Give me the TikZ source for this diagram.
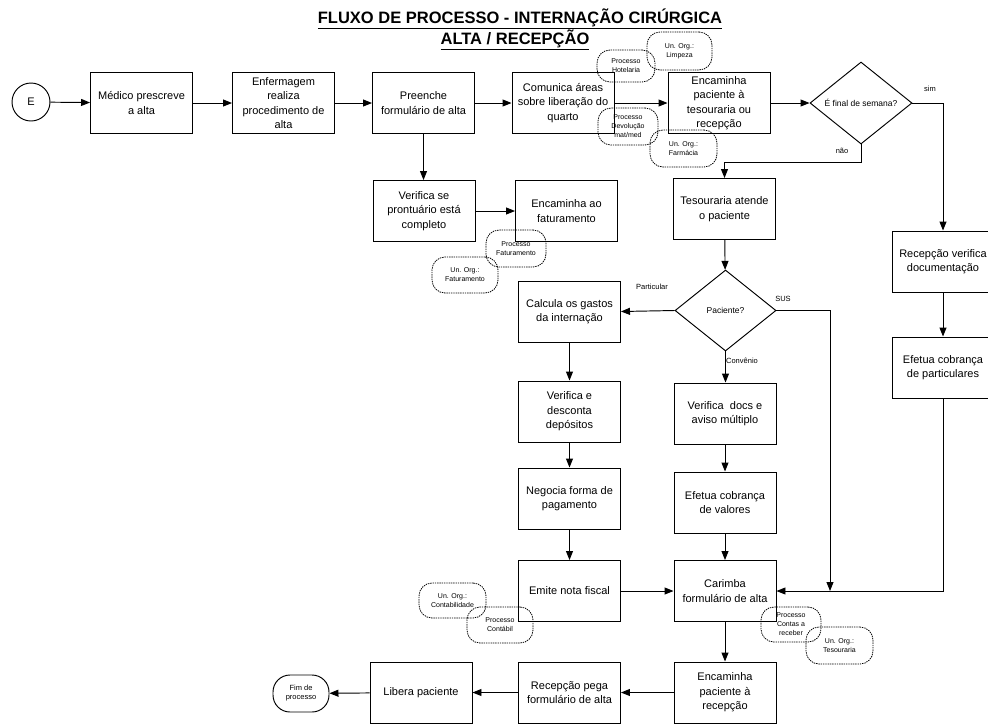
\documentclass[tikz,border=0pt]{standalone}
\usepackage{fontspec}
\setmainfont{Liberation Sans}
\usetikzlibrary{arrows.meta,shapes.geometric,calc}

\begin{document}
\begin{tikzpicture}[x=1pt,y=-1pt,
  line width=0.95pt,
  stepbox/.style={draw, minimum width=102pt, minimum height=61pt, inner sep=0pt,
    align=center, font=\fontsize{11}{14.5}\selectfont},
  decision/.style={draw, diamond, minimum width=102pt, minimum height=82pt,
    inner sep=0pt, align=center, font=\fontsize{8.5}{10}\selectfont},
  bubble/.style={draw, line width=0.8pt, dash pattern=on 1.4pt off 0.9pt, rounded corners=13pt,
    inner sep=0pt, align=center, font=\fontsize{7}{9}\selectfont},
  flowlabel/.style={font=\fontsize{7.5}{9}\selectfont, inner sep=0pt},
  flow/.style={-{Triangle[length=9pt,width=7pt]}},
]
\useasboundingbox (0,0) rectangle (988,724);

% title
\node[font=\fontsize{16.5}{18}\selectfont\bfseries, inner sep=0pt] (title1) at (520,19)
  {\underline{FLUXO DE PROCESSO - INTERNAÇÃO CIRÚRGICA}};
\node[font=\fontsize{16.5}{18}\selectfont\bfseries, inner sep=0pt] (title2) at (515,40)
  {\underline{ALTA / RECEPÇÃO}};

% top row
\node[draw, circle, minimum size=38pt, inner sep=0pt, font=\fontsize{11}{13}\selectfont] (start) at (31,102) {E};
\node[stepbox] (m1) at (141.5,103) {Médico prescreve\\a alta};
\node[stepbox] (m2) at (283.5,103) {Enfermagem\\realiza\\procedimento de\\alta};
\node[stepbox] (m3) at (423.5,103) {Preenche\\formulário de alta};
\node[stepbox] (m4) at (563,103) {Comunica áreas\\sobre liberação do\\quarto};
\node[stepbox] (m5) at (719,103) {Encaminha\\paciente à\\tesouraria ou\\recepção};
\node[decision] (d1) at (861,103) {É final de semana?};

% billing branch
\node[stepbox] (v1) at (424,211) {Verifica se\\prontuário está\\completo};
\node[stepbox] (f1) at (566.5,211) {Encaminha ao\\faturamento};

% treasury
\node[stepbox] (t1) at (724.5,209) {Tesouraria atende\\o paciente};
\node[decision, minimum width=101pt, minimum height=81pt] (d2) at (725.5,310.5) {Paciente?};

% private patient column
\node[stepbox] (c1) at (569.5,311.5) {Calcula os gastos\\da internação};
\node[stepbox] (c2) at (569.5,411.5) {Verifica e\\desconta\\depósitos};
\node[stepbox] (c3) at (569.5,498.5) {Negocia forma de\\pagamento};
\node[stepbox] (c4) at (569.5,591) {Emite nota fiscal};

% insurance column
\node[stepbox] (v2) at (725,413.5) {Verifica\ \ docs e\\aviso múltiplo};
\node[stepbox] (v3) at (725,502.5) {Efetua cobrança\\de valores};
\node[stepbox] (k1) at (725,591) {Carimba\\formulário de alta};
\node[stepbox] (k2) at (725,692.5) {Encaminha\\paciente à\\recepção};

% bottom row
\node[stepbox] (r3) at (569.5,692.5) {Recepção pega\\formulário de alta};
\node[stepbox] (r4) at (421,692.5) {Libera paciente};
\node[draw, rounded corners=17pt, minimum width=56pt, minimum height=37pt, inner sep=0pt,
  align=center, font=\fontsize{7.5}{9}\selectfont] (fim) at (301,693.5) {Fim de\\processo};

% weekend reception
\node[stepbox] (s1) at (943,261.5) {Recepção verifica\\documentação};
\node[stepbox] (s2) at (943,367.5) {Efetua cobrança\\de particulares};

% related processes and units
\node[bubble, minimum width=58pt, minimum height=32pt] (b1) at (626,66) {Processo\\Hotelaria};
\node[bubble, minimum width=65pt, minimum height=38pt] (b2) at (679.5,51) {Un. Org.:\\Limpeza};
\node[bubble, minimum width=60pt, minimum height=37pt] (b3) at (628,126.5) {Processo\\Devolução\\mat/med};
\node[bubble, minimum width=67pt, minimum height=37pt] (b4) at (683.5,148.5) {Un. Org.:\\Farmácia};
\node[bubble, minimum width=60pt, minimum height=37pt] (b5) at (516,248.5) {Processo\\Faturamento};
\node[bubble, minimum width=66pt, minimum height=36pt] (b6) at (465,275) {Un. Org.:\\Faturamento};
\node[bubble, minimum width=67pt, minimum height=35pt] (b7) at (452.5,600.5) {Un. Org.:\\Contabilidade};
\node[bubble, minimum width=66pt, minimum height=36pt] (b8) at (500,625) {Processo\\Contábil};
\node[bubble, minimum width=60pt, minimum height=35pt] (b9) at (791,624.5) {Processo\\Contas a\\receber};
\node[bubble, minimum width=67pt, minimum height=37pt] (b10) at (839.5,645.5) {Un. Org.:\\Tesouraria};

% connector corners
\coordinate (nao) at (861,162);
\coordinate (jn) at (830,591);

% connectors
\draw[flow] (start) -- (m1);
\draw[flow] (m1) -- (m2);
\draw[flow] (m2) -- (m3);
\draw[flow] (m3) -- (m4);
\draw[flow] (m4) -- (m5);
\draw[flow] (m5) -- (d1);
\draw[flow] (d1.east) -| (s1.north);
\draw[flow] (d1.south) -- (nao) -| (t1.north);
\draw[flow] (m3.south) -- (m3.south |- v1.north);
\draw[flow] (v1) -- (f1);
\draw[flow] (t1) -- (d2);
\draw[flow] (d2.west) -- (c1.east);
\draw[flow] (d2.east) -| (jn);
\draw[flow] (d2.south) -- (d2.south |- v2.north);
\draw[flow] (c1) -- (c2);
\draw[flow] (c2) -- (c3);
\draw[flow] (c3) -- (c4);
\draw[flow] (v2) -- (v3);
\draw[flow] (v3) -- (k1);
\draw[flow] (c4) -- (k1);
\draw[flow] (s1) -- (s2);
\draw[flow] (s2.south) |- (k1.east);
\draw[flow] (k1) -- (k2);
\draw[flow] (k2) -- (r3);
\draw[flow] (r3) -- (r4);
\draw[flow] (r4) -- (fim);

% branch labels
\node[flowlabel] (lsim) at (930,89) {sim};
\node[flowlabel] (lnao) at (842,151) {não};
\node[flowlabel] (lpart) at (652,287) {Particular};
\node[flowlabel] (lsus) at (783,299) {SUS};
\node[flowlabel] (lconv) at (742,361) {Convênio};
\end{tikzpicture}
\end{document}
